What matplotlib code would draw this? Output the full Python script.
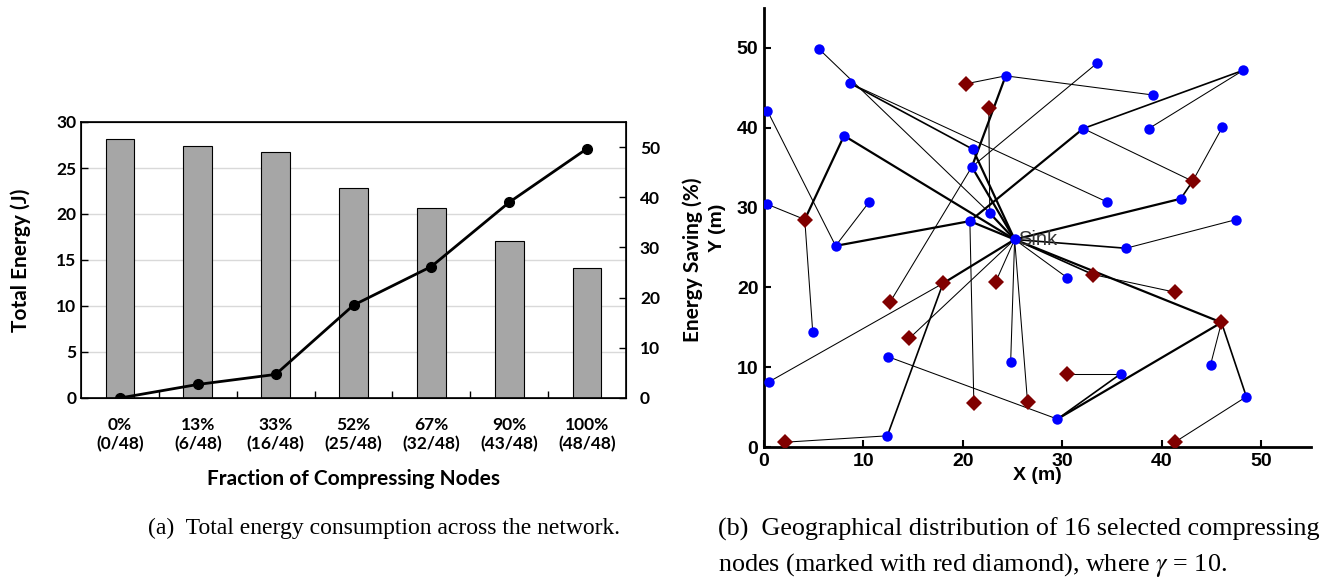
import matplotlib
matplotlib.use("Agg")
import matplotlib.pyplot as plt
import numpy as np

plt.rcParams['mathtext.fontset'] = 'stix'

# --- (a) energy vs fraction of compressing nodes ---
fractions = ['0%\n(0/48)', '13%\n(6/48)', '33%\n(16/48)', '52%\n(25/48)',
             '67%\n(32/48)', '90%\n(43/48)', '100%\n(48/48)']
total_energy = [28.1, 27.35, 26.75, 22.85, 20.7, 17.1, 14.1]
energy_saving = [0.0, 2.7, 4.7, 18.5, 26.2, 39.0, 49.7]

# --- (b) node layout, index 0 is the sink ---
node_x = [25.2,
          5.5, 8.6, 0.35, 8.05, 0.35, 10.55, 7.2, 4.9, 0.55, 12.5, 12.4,
          21.0, 20.9, 22.7, 20.7, 24.3, 33.5, 39.1, 48.2, 32.1, 38.7, 46.1,
          34.5, 41.9, 47.5, 36.4, 24.8, 30.5, 44.9, 35.9, 29.5, 48.5,
          4.1, 43.1, 18.0, 20.3, 22.6, 12.7, 23.3, 14.6, 21.1, 2.1,
          33.1, 46.0, 41.3, 30.5, 26.5, 41.3]
node_y = [26.0,
          49.9, 45.6, 42.1, 39.0, 30.4, 30.65, 25.2, 14.4, 8.2, 11.3, 1.4,
          37.3, 35.1, 29.3, 28.3, 46.5, 48.1, 44.1, 47.2, 39.9, 39.9, 40.1,
          30.7, 31.1, 28.5, 24.9, 10.6, 21.2, 10.3, 9.2, 3.5, 6.3,
          28.5, 33.3, 20.5, 45.5, 42.5, 18.2, 20.7, 13.6, 5.5, 0.6,
          21.6, 15.6, 19.4, 9.2, 5.6, 0.6]
compressing = [False] * 33 + [True] * 16
parent = [-1,
          14, 12, 7, 0, 33, 7, 15, 33, 35, 31, 35,
          0, 0, 0, 0, 13, 13, 16, 20, 15, 19, 34,
          2, 0, 26, 0, 0, 0, 44, 31, 44, 44,
          4, 24, 0, 16, 14, 13, 0, 0, 15, 11,
          0, 0, 43, 30, 0, 32]
extra_links = [(20, 34)]

fig = plt.figure(figsize=(13.37, 5.8), dpi=100)

# ---------------- left chart ----------------
ax = fig.add_axes([81 / 1337, 1 - 398 / 580, 545 / 1337, 276 / 580])
pos = np.arange(len(fractions))
ax.bar(pos, total_energy, width=0.37, color='#a6a6a6', edgecolor='black',
       linewidth=0.8, zorder=2)
ax.set_xlim(-0.5, len(fractions) - 0.5)
ax.set_ylim(0, 30)
ax.set_yticks(range(0, 31, 5))
ax.set_xticks(pos)
ax.set_xticklabels(fractions)
ax.set_xticks(pos[:-1] + 0.5, minor=True)
ax.tick_params(axis='x', which='major', length=0, pad=14)
ax.tick_params(axis='x', which='minor', direction='in', length=5, width=1)
ax.tick_params(axis='y', direction='in', length=5, width=1)
ax.yaxis.grid(True, color='#d9d9d9', linewidth=1, zorder=0)
ax.set_axisbelow(True)
for s in ax.spines.values():
    s.set_linewidth(1.2)
for lab in ax.get_xticklabels() + ax.get_yticklabels():
    lab.set_fontfamily('Lato')
    lab.set_fontweight('bold')
    lab.set_fontsize(12.5)
ax.set_ylabel('Total Energy (J)', fontfamily='Lato', fontweight='bold',
              fontsize=15, labelpad=18)
ax.set_xlabel('Fraction of Compressing Nodes', fontfamily='Lato',
              fontweight='bold', fontsize=15, labelpad=12)

ax2 = ax.twinx()
ax2.plot(pos, energy_saving, color='black', linewidth=2, marker='o',
         markersize=7, zorder=3)
ax2.set_ylim(0, 55)
ax2.set_yticks(range(0, 51, 10))
ax2.tick_params(axis='y', direction='in', length=5, width=1, pad=10)
for lab in ax2.get_yticklabels():
    lab.set_fontfamily('Lato')
    lab.set_fontweight('bold')
    lab.set_fontsize(12.5)
ax2.set_ylabel('Energy Saving (%)', fontfamily='Lato', fontweight='bold',
               fontsize=15, labelpad=16)

# ---------------- right chart ----------------
bx = fig.add_axes([764 / 1337, 1 - 447 / 580, 547 / 1337, 439 / 580])

# how many routes use each link -> thicker line
load = [1] * len(node_x)
for i in range(1, len(node_x)):
    p = parent[i]
    while p > 0:
        load[p] += 1
        p = parent[p]

links = [(i, parent[i]) for i in range(1, len(node_x))] + extra_links
for a, b in links:
    n = load[a] if parent[a] == b else 1
    lw = 0.75 if n == 1 else (1.2 if n == 2 else 1.6)
    bx.plot([node_x[a], node_x[b]], [node_y[a], node_y[b]], color='black',
            linewidth=lw, zorder=1)

bx_x = [x for x, c in zip(node_x, compressing) if not c]
bx_y = [y for y, c in zip(node_y, compressing) if not c]
rx_x = [x for x, c in zip(node_x, compressing) if c]
rx_y = [y for y, c in zip(node_y, compressing) if c]
bx.plot(bx_x, bx_y, 'o', color='#0000ff', markersize=7.5, zorder=3,
        markeredgewidth=0)
bx.plot(rx_x, rx_y, 'D', color='#800000', markersize=8.5, zorder=4,
        markeredgewidth=0)
bx.text(node_x[0] + 0.4, node_y[0], 'Sink', fontsize=14.5, color='#333333',
        va='center', ha='left', fontfamily='Liberation Sans', zorder=5)

bx.set_xlim(0, 55)
bx.set_ylim(0, 55)
bx.set_xticks(range(0, 51, 10))
bx.set_yticks(range(0, 51, 10))
bx.spines['top'].set_visible(False)
bx.spines['right'].set_visible(False)
bx.spines['left'].set_linewidth(2)
bx.spines['bottom'].set_linewidth(2)
bx.tick_params(direction='in', length=5, width=1.5, pad=4)
for lab in bx.get_xticklabels() + bx.get_yticklabels():
    lab.set_fontfamily('Liberation Sans')
    lab.set_fontweight('bold')
    lab.set_fontsize(14)
bx.set_xlabel('X (m)', fontfamily='Liberation Sans', fontweight='bold',
              fontsize=14, labelpad=-2)
bx.set_ylabel('Y (m)', fontfamily='Liberation Sans', fontweight='bold',
              fontsize=14, labelpad=8)

# ---------------- captions ----------------
cap = dict(fontfamily='Liberation Serif', va='center')
fig.text(384 / 1337, 1 - 528 / 580,
         '(a)  Total energy consumption across the network.', ha='center',
         fontsize=17, **cap)
fig.text(718 / 1337, 1 - 529 / 580,
         '(b)  Geographical distribution of 16 selected compressing', ha='left',
         fontsize=18.8, **cap)
fig.text(718 / 1337, 1 - 565 / 580,
         r'nodes (marked with red diamond), where $\gamma$ = 10.', ha='left',
         fontsize=18.8, **cap)

fig.savefig('out.png', dpi=100)
